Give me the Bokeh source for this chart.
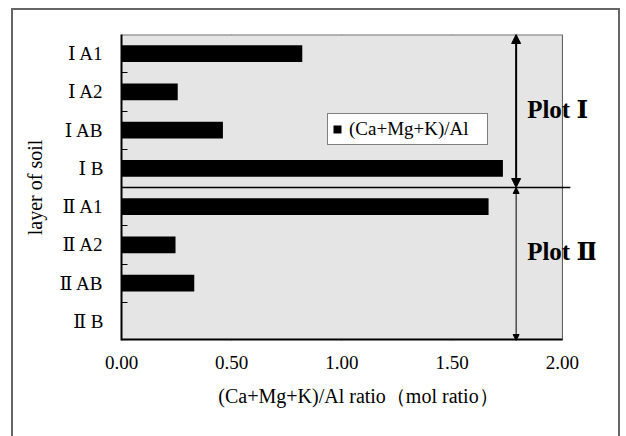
from bokeh.plotting import figure
from bokeh.models import (Range1d, FixedTicker, Arrow, NormalHead, Label,
                          Legend, LegendItem, ColumnDataSource)
from bokeh.embed import file_html
from bokeh.resources import INLINE

# ---- data ----
layers = ["Ⅰ A1", "Ⅰ A2", "Ⅰ AB", "Ⅰ B", "Ⅱ A1", "Ⅱ A2", "Ⅱ AB", "Ⅱ B"]
ratio = [0.82, 0.255, 0.46, 1.73, 1.665, 0.245, 0.33, 0.0]
x_ticks = [0.0, 0.5, 1.0, 1.5, 2.0]
x_tick_labels = ["0.00", "0.50", "1.00", "1.50", "2.00"]
plot_names = ["Plot Ⅰ", "Plot Ⅱ"]
series_name = "(Ca+Mg+K)/Al"
x_title = "(Ca+Mg+K)/Al ratio（mol ratio）"
y_title = "layer of soil"
arrow_x = 1.79

FONT = "'Liberation Serif', 'DejaVu Serif', serif"
n = len(layers)
ypos = [n - i - 0.5 for i in range(n)]
xmax = 2.0

src = ColumnDataSource(dict(y=ypos, right=ratio, name=layers))

p = figure(width=609, height=429, output_backend="svg", toolbar_location=None,
           x_range=Range1d(0, 2.15), y_range=Range1d(0, n),
           min_border_left=108, min_border_top=24, min_border_right=27,
           min_border_bottom=99)
p.styles = {"margin-left": "11px", "margin-top": "8px",
            "border-left": "2px solid #666", "border-top": "2px solid #666",
            "border-right": "2px solid #666"}
p.background_fill_color = "white"
p.border_fill_color = "white"
p.outline_line_color = None

# grey plotting area 0..2
p.quad(left=0, right=xmax, bottom=0, top=n, fill_color="#e5e5e5", line_color=None)

# grid lines
p.xgrid.ticker = FixedTicker(ticks=[0.5, 1.0, 1.5])
p.xgrid.grid_line_color = "#111111"
p.xgrid.grid_line_width = 1
p.ygrid.grid_line_color = None

# frame edges
p.segment(x0=[xmax], y0=[0], x1=[xmax], y1=[n], line_color="#555555", line_width=1)
p.segment(x0=[0], y0=[n], x1=[xmax], y1=[n], line_color="#777777", line_width=2)
p.segment(x0=[0], y0=[0], x1=[xmax], y1=[0], line_color="black", line_width=4)

bars = p.hbar(y="y", right="right", left=0, height=0.44, source=src,
              fill_color="black", line_color=None)

# separator between plots
half = n / 2
p.segment(x0=[0], y0=[half], x1=[2.036], y1=[half], line_color="black", line_width=1.5)

# arrows
p.add_layout(Arrow(start=NormalHead(size=9, fill_color="black", line_color="black"),
                   end=NormalHead(size=9, fill_color="black", line_color="black"),
                   x_start=arrow_x, y_start=half, x_end=arrow_x, y_end=n,
                   line_width=2, line_color="black"))
p.add_layout(Arrow(start=NormalHead(size=6, fill_color="black", line_color="black"),
                   end=NormalHead(size=6, fill_color="black", line_color="black"),
                   x_start=arrow_x, y_start=half, x_end=arrow_x, y_end=0,
                   line_width=1, line_color="black"))

p.add_layout(Label(x=1.84, y=n * 0.755, text=plot_names[0], text_font=FONT,
                   text_font_size="25px", text_font_style="bold",
                   text_baseline="middle", text_color="black"))
p.add_layout(Label(x=1.84, y=half * 0.58, text=plot_names[1], text_font=FONT,
                   text_font_size="25px", text_font_style="bold",
                   text_baseline="middle", text_color="black"))

# axes
xa = p.xaxis[0]
xa.ticker = FixedTicker(ticks=x_ticks)
xa.major_label_overrides = {t: l for t, l in zip(x_ticks, x_tick_labels)}
xa.axis_line_color = None
xa.major_tick_line_color = None
xa.minor_tick_line_color = None
xa.major_label_standoff = 9
xa.major_label_text_font = FONT
xa.major_label_text_font_size = "19px"
xa.major_label_text_color = "black"
xa.axis_label = x_title
xa.axis_label_text_font = FONT
xa.axis_label_text_font_size = "20px"
xa.axis_label_text_font_style = "normal"
xa.axis_label_text_color = "black"
xa.axis_label_standoff = 13

ya = p.yaxis[0]
ya.ticker = FixedTicker(ticks=ypos, minor_ticks=[float(i) for i in range(1, n)])
ya.major_label_overrides = {y: l for y, l in zip(ypos, layers)}
ya.axis_line_color = "black"
ya.axis_line_width = 2
ya.major_tick_line_color = None
ya.minor_tick_line_color = "black"
ya.minor_tick_in = 6
ya.minor_tick_out = 0
ya.major_label_standoff = 12
ya.major_label_text_font = FONT
ya.major_label_text_font_size = "19px"
ya.major_label_text_color = "black"
ya.axis_label = y_title
ya.axis_label_text_font = FONT
ya.axis_label_text_font_size = "20px"
ya.axis_label_text_font_style = "normal"
ya.axis_label_text_color = "black"
ya.axis_label_standoff = 10

legend = Legend(items=[LegendItem(label=series_name, renderers=[bars])],
                location=(206, 195), label_text_font=FONT,
                label_text_font_size="19px", label_text_color="black",
                glyph_width=10, glyph_height=10, label_standoff=7,
                label_width=134, padding=4, margin=0, border_line_color="black",
                border_line_width=1, background_fill_color="white",
                background_fill_alpha=1.0, spacing=0, label_height=14)
p.add_layout(legend)

open("out.html", "w").write(file_html(p, INLINE))
